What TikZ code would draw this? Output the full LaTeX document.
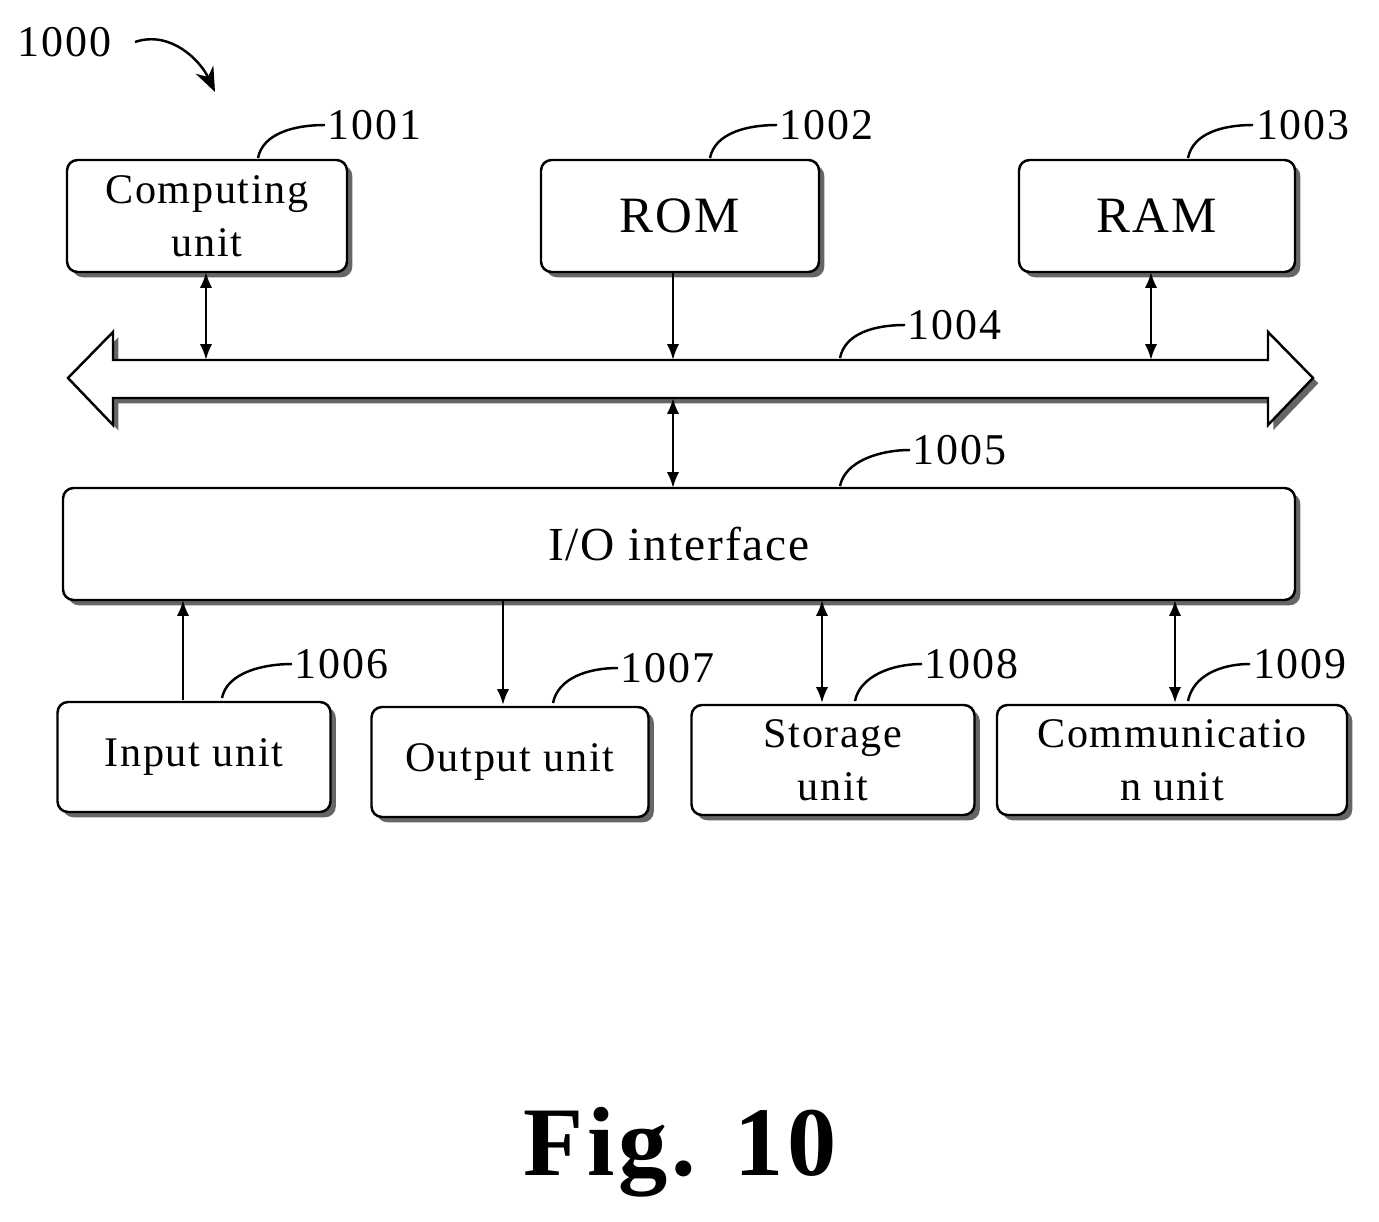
\documentclass[tikz,border=0pt]{standalone}
\usepackage{fontspec}
\setmainfont{Liberation Serif}[LetterSpace=4]
\usetikzlibrary{shadows,arrows.meta}
\begin{document}
\begin{tikzpicture}[x=0.02cm,y=-0.02cm,line width=1.4pt,
box/.style={draw,line width=1.4pt,rounded corners=6pt,fill=white,drop shadow={shadow xshift=3pt,shadow yshift=-3pt,fill=black!60,opacity=1},align=center,font=\fontsize{24}{30}\selectfont},
arr/.style={-{Latex[length=9pt,width=7pt]}},
darr/.style={{Latex[length=9pt,width=7pt]}-{Latex[length=9pt,width=7pt]}},
lbl/.style={font=\fontsize{25}{28}\selectfont,anchor=west,inner sep=1pt},
lead/.style={line width=1.4pt}]
\useasboundingbox (0,0) rectangle (1379,1222);
% nodes
\node[box,minimum width=280*0.02cm,minimum height=112*0.02cm] (cu) at (207,216) {Computing\\unit};
\node[box,minimum width=278*0.02cm,minimum height=112*0.02cm,font=\fontsize{29}{32}\selectfont] (rom) at (680,216) {ROM};
\node[box,minimum width=276*0.02cm,minimum height=112*0.02cm,font=\fontsize{29}{32}\selectfont] (ram) at (1157,216) {RAM};
\node[box,minimum width=1232*0.02cm,minimum height=112*0.02cm,font=\fontsize{27}{30}\selectfont] (io) at (679,544) {I/O interface};
\node[box,minimum width=273*0.02cm,minimum height=110*0.02cm] (in) at (194,757) {Input unit};
\node[box,minimum width=277*0.02cm,minimum height=110*0.02cm] (out) at (510,762) {Output unit};
\node[box,minimum width=283*0.02cm,minimum height=110*0.02cm] (st) at (833,760) {Storage\\unit};
\node[box,minimum width=350*0.02cm,minimum height=110*0.02cm] (cm) at (1172,760) {Communicatio\\n unit};
% bus
\draw[fill=white,drop shadow={shadow xshift=3pt,shadow yshift=-3pt,fill=black!60,opacity=1}]
 (68,378) -- (113,332) -- (113,360) -- (1268,360) -- (1268,332) -- (1313,378) -- (1268,425) -- (1268,398) -- (113,398) -- (113,425) -- cycle;
\coordinate (b1) at (206,360); \coordinate (b2) at (673,360); \coordinate (b3) at (1151,360); \coordinate (b4) at (673,398);
% connectors
\draw[darr] (206,272) -- (b1);
\draw[arr] (673,272) -- (b2);
\draw[darr] (1151,272) -- (b3);
\draw[darr] (b4) -- (673,488);
\draw[arr] (183,700) -- (183,600);
\draw[arr] (503,600) -- (503,705);
\draw[darr] (822,600) -- (822,703);
\draw[darr] (1175,600) -- (1175,703);
% labels
\node[font=\fontsize{25}{28}\selectfont,anchor=west,inner sep=1pt] (l0) at (15,42) {1000};
\draw[-{Stealth[length=14pt,width=11pt]}] (135,42) .. controls (170,30) and (200,60) .. (215,92);
\foreach \n/\sx/\sy/\tx/\ty in {1001/258/158/325/125, 1002/710/158/777/125, 1003/1188/158/1253/125, 1004/840/358/905/325, 1005/840/486/910/450, 1006/222/698/292/664, 1007/553/703/618/668, 1008/855/701/922/664, 1009/1188/701/1250/664}{
 \node[lbl] (n\n) at (\tx,\ty) {\n};
 \draw[lead] (\sx,\sy) .. controls (\sx+5,\sy-25) and (\tx-30,\ty) .. (n\n.west);
}
\node[font=\bfseries\fontsize{56}{60}\selectfont] (fig) at (680,1152) {Fig. 10};
\end{tikzpicture}
\end{document}
